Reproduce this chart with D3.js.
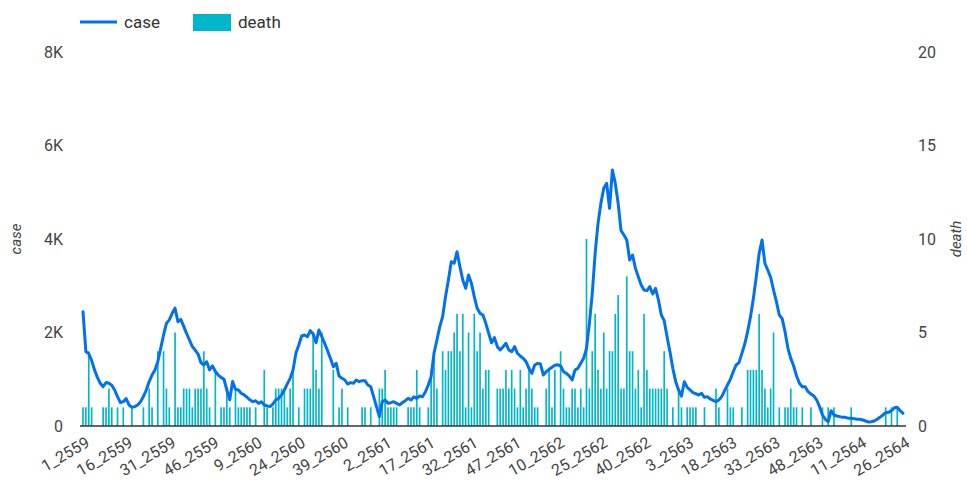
<!DOCTYPE html>
<html>
<head>
<meta charset="utf-8">
<script src="https://cdn.jsdelivr.net/npm/d3@7"></script>
<style>
  html, body { margin: 0; padding: 0; background: #fff; }
  svg { display: block; font-family: Roboto, "Noto Sans", sans-serif; }
</style>
</head>
<body>
<svg id="chart" width="967" height="486"></svg>
<script>
// ---- data ----
const years = [2559, 2560, 2561, 2562, 2563, 2564];
const weeksPerYear = 52;
const lastWeekOfLastYear = 26;
const categories = [];
years.forEach((y, k) => {
  const n = k === years.length - 1 ? lastWeekOfLastYear : weeksPerYear;
  for (let w = 1; w <= n; w++) categories.push(w + "_" + y);
});

const caseValues = [
  2445,1590,1550,1400,1200,1040,913,840,930,913,870,770,630,500,520,585,450,400,415,450,
  520,630,770,950,1090,1200,1375,1660,1945,2195,2270,2410,2520,2230,2280,2130,1980,1840,1700,1625,
  1540,1355,1305,1375,1200,1285,1165,1090,1040,1000,770,560,950,785,770,700,665,615,560,520,
  540,485,520,450,430,415,470,560,590,665,770,900,1020,1198,1555,1733,1925,1946,1910,2040,
  1968,1782,2053,1910,1768,1611,1447,1269,1340,1070,1020,984,898,927,912,984,948,970,970,877,
  841,627,413,200,520,556,485,499,520,485,449,499,542,592,556,627,592,642,627,727,
  877,1055,1555,1840,2125,2339,2767,3123,3515,3480,3729,3408,3123,2945,3230,3052,2767,2517,2410,2375,
  2196,1982,1780,1890,1697,1626,1697,1768,1626,1590,1697,1554,1497,1447,1376,1233,1126,1305,1340,1326,
  1091,1162,1212,1255,1298,1312,1283,1162,1126,1070,984,1198,1233,1340,1447,1661,2196,2838,3693,4335,
  4763,5084,5190,4656,5476,5190,4763,4178,4085,3979,3551,3658,3373,3194,3016,2909,2895,2980,2823,2945,
  2695,2374,2253,1911,1590,1233,948,770,640,948,827,770,713,690,663,699,613,628,578,549,
  521,556,628,756,877,998,1162,1305,1355,1554,1754,2018,2339,2731,3194,3693,3979,3479,3337,3180,
  2909,2660,2374,2296,2018,1661,1447,1283,1070,913,841,841,734,684,642,556,413,235,143,92,
  328,235,214,200,185,185,164,164,157,143,143,128,107,86,92,107,143,185,235,285,
  292,328,392,399,328,271
];

const deathValues = [
  1,1,4,1,0,0,0,1,1,2, 1,0,1,0,1,0,0,1,0,0,
  0,1,0,2,1,0,4,0,4,2, 1,0,5,1,1,2,2,2,1,2,
  2,2,4,2,1,0,3,0,1,1, 2,1,0,2,1,1,1,1,1,0,
  1,0,0,3,1,0,1,2,2,2, 2,1,2,3,0,1,0,2,2,2,
  5,3,2,5,0,0,0,3,0,1, 2,0,1,0,0,0,0,1,1,0,
  1,0,0,2,2,3,1,1,1,1, 0,0,0,1,1,1,3,1,0,0,
  1,3,4,2,0,4,3,4,4,5, 6,4,6,1,5,1,6,4,5,2,
  3,3,0,0,2,2,2,3,2,3, 2,1,3,1,2,3,2,1,1,0,
  0,2,3,1,3,0,4,2,1,1, 2,2,1,2,1,10,2,4,6,3,
  2,5,2,4,4,6,7,2,2,8, 4,4,2,3,1,6,3,2,2,2,
  2,2,4,2,0,1,0,2,1,0, 1,1,1,1,0,0,1,0,0,0,
  2,1,0,0,2,1,1,0,0,1, 0,3,3,3,3,6,3,2,1,2,
  5,0,1,0,1,1,2,1,1,0, 1,0,0,1,0,0,0,1,0,1,
  0,1,0,0,0,0,0,1,0,0, 0,0,0,0,0,0,0,0,0,1,
  0,1,0,1,0,0
];

const caseTicks = [0, 2000, 4000, 6000, 8000];
const deathTicks = [0, 5, 10, 15, 20];
const tickEvery = 15;

// ---- layout ----
const W = 967, H = 486;
const plot = { left: 80, right: 906, top: 52, bottom: 426 };
const lineColor = "#0072f0";
const barColor = "#00b6cb";
const textColor = "#444";

const svg = d3.select("#chart");

const x = d3.scaleBand()
  .domain(categories)
  .range([plot.left, plot.right])
  .paddingInner(0.42)
  .paddingOuter(0.75);

const yCase = d3.scaleLinear().domain([0, 8000]).range([plot.bottom, plot.top]);
const yDeath = d3.scaleLinear().domain([0, 20]).range([plot.bottom, plot.top]);

const cx = d => x(d) + x.bandwidth() / 2;

// bars
svg.append("g")
  .selectAll("rect")
  .data(categories.map((c, i) => ({ c, v: deathValues[i] })).filter(d => d.v > 0))
  .join("rect")
  .attr("x", d => x(d.c))
  .attr("width", x.bandwidth())
  .attr("y", d => yDeath(d.v))
  .attr("height", d => yDeath(0) - yDeath(d.v))
  .attr("fill", barColor);

// baseline
svg.append("line")
  .attr("x1", plot.left).attr("x2", plot.right)
  .attr("y1", plot.bottom).attr("y2", plot.bottom)
  .attr("stroke", "#333").attr("stroke-width", 1.5);

// line
const line = d3.line()
  .x((d, i) => cx(categories[i]))
  .y(d => yCase(d));
svg.append("path")
  .datum(caseValues)
  .attr("d", line)
  .attr("fill", "none")
  .attr("stroke", lineColor)
  .attr("stroke-width", 3)
  .attr("stroke-linejoin", "round")
  .attr("stroke-linecap", "round");

// left axis
const leftAxis = d3.axisLeft(yCase)
  .tickValues(caseTicks)
  .tickFormat(d => d === 0 ? "0" : (d / 1000) + "K")
  .tickSize(0).tickPadding(0);
const gl = svg.append("g").attr("transform", `translate(63,0)`).call(leftAxis);
gl.select(".domain").remove();
gl.selectAll("text").attr("fill", textColor).style("font-size", "16px").attr("font-family", "Roboto");

// right axis
const rightAxis = d3.axisRight(yDeath)
  .tickValues(deathTicks)
  .tickSize(0).tickPadding(0);
const gr = svg.append("g").attr("transform", `translate(918,0)`).call(rightAxis);
gr.select(".domain").remove();
gr.selectAll("text").attr("fill", textColor).style("font-size", "16px").attr("font-family", "Roboto");

// x axis labels
const xLabelCats = categories.filter((c, i) => i % tickEvery === 0);
svg.append("g")
  .selectAll("text")
  .data(xLabelCats)
  .join("text")
  .attr("transform", d => `translate(${cx(d) + 2},${plot.bottom + 10}) rotate(-30)`)
  .attr("text-anchor", "end")
  .attr("dy", "0.71em")
  .attr("fill", textColor)
  .style("font-size", "16px")
  .text(d => d);

// axis titles
svg.append("text")
  .attr("transform", `translate(21,${(plot.top + plot.bottom) / 2}) rotate(-90)`)
  .attr("text-anchor", "middle")
  .attr("fill", textColor)
  .style("font-size", "15px")
  .style("font-style", "italic")
  .text("case");
svg.append("text")
  .attr("transform", `translate(961,${(plot.top + plot.bottom) / 2}) rotate(-90)`)
  .attr("text-anchor", "middle")
  .attr("fill", textColor)
  .style("font-size", "15px")
  .style("font-style", "italic")
  .text("death");

// legend
const lg = svg.append("g");
lg.append("line").attr("x1", 80).attr("x2", 117).attr("y1", 22).attr("y2", 22)
  .attr("stroke", lineColor).attr("stroke-width", 3);
lg.append("text").attr("x", 124).attr("y", 28).attr("fill", "#333")
  .style("font-size", "17px").text("case");
lg.append("rect").attr("x", 193).attr("y", 14).attr("width", 38).attr("height", 17)
  .attr("fill", barColor);
lg.append("text").attr("x", 238).attr("y", 28).attr("fill", "#333")
  .style("font-size", "17px").text("death");
</script>
</body>
</html>
